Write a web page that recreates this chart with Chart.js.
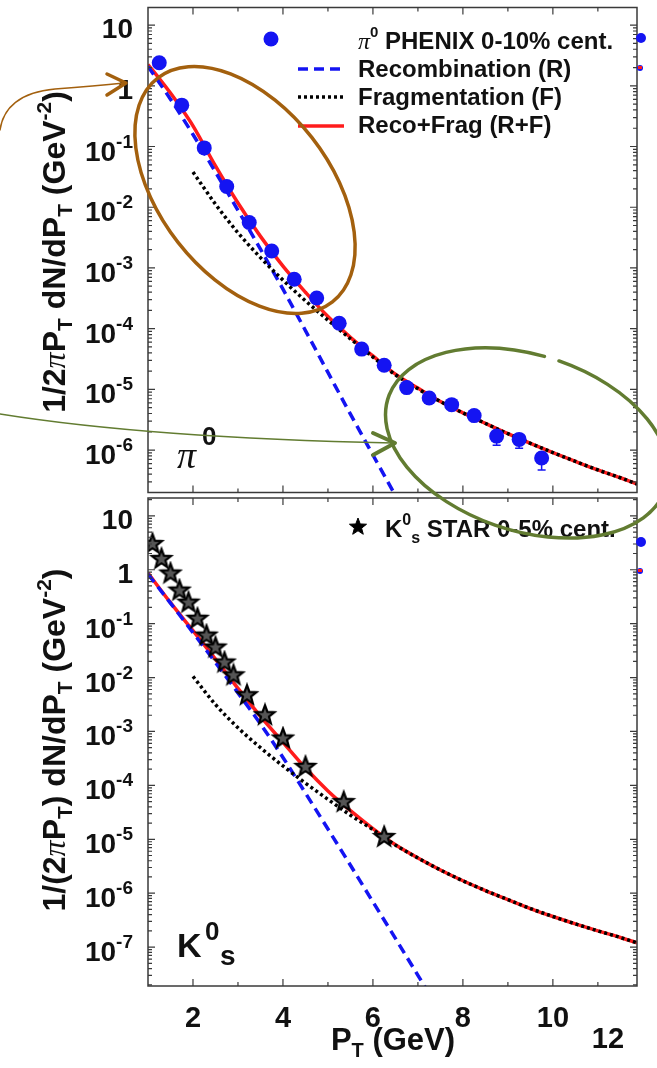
<!DOCTYPE html>
<html>
<head>
<meta charset="utf-8">
<script src="https://cdn.jsdelivr.net/npm/chart.js@4.4.1/dist/chart.umd.min.js"></script>
<style>
  body { margin: 0; background: #fff; }
  #wrap { position: relative; width: 657px; height: 1068px; overflow: hidden; }
  #topChart { position: absolute; left: 0; top: 0; }
  #botChart { position: absolute; left: 0; top: 487px; }
  #notes { position: absolute; left: 0; top: 0; pointer-events: none; }
</style>
</head>
<body>
<div id="wrap">
  <canvas id="topChart" width="657" height="500"></canvas>
  <canvas id="botChart" width="657" height="581"></canvas>
  <canvas id="notes" width="657" height="1068"></canvas>
</div>
<script>
// ---- pi0 panel (top) ----
var piX = [1.25, 1.75, 2.25, 2.75, 3.25, 3.75, 4.25, 4.75, 5.25, 5.75, 6.25, 6.75, 7.25, 7.75, 8.25, 8.75, 9.25, 9.75];
var piY = [2.4, 0.48, 0.095, 0.022, 5.6e-3, 1.9e-3, 6.5e-4, 3.2e-4, 1.23e-4, 4.6e-5, 2.5e-5, 1.07e-5, 7.2e-6, 5.6e-6, 3.7e-6, 1.7e-6, 1.5e-6, 7.4e-7];
var piYLow = [null, null, null, null, null, null, null, null, null, null, null, null, null, null, null, 1.2e-6, 1.07e-6, 4.7e-7];

var recoPiX = [1, 1.5, 2, 2.5, 3, 3.5, 4, 4.5, 5, 5.5, 6, 6.5, 7];
var recoPiY = [2.09, 0.603, 0.158, 0.038, 8.9e-3, 2.04e-3, 4.47e-4, 9.3e-5, 1.9e-5, 3.9e-6, 8.3e-7, 1.78e-7, 3.8e-8];

var fragPiX = [2, 2.5, 3, 3.5, 4, 4.5, 5, 5.5, 6, 6.5, 7, 7.5, 8, 8.5, 9, 9.5, 10, 10.5, 11, 11.5, 11.87];
var fragPiY = [0.038, 0.0112, 3.8e-3, 1.48e-3, 6.3e-4, 2.88e-4, 1.38e-4, 6.8e-5, 3.4e-5, 1.74e-5, 1.02e-5, 6.3e-6, 4.1e-6, 2.75e-6, 1.86e-6, 1.29e-6, 9.1e-7, 6.5e-7, 4.7e-7, 3.5e-7, 2.75e-7];

var sumPiX = [1, 1.25, 1.5, 1.75, 2, 2.5, 3, 3.5, 4, 4.5, 5, 5.5, 6, 6.5, 7, 7.5, 8, 8.5, 9, 9.5, 10, 10.5, 11, 11.5, 11.87];
var sumPiY = [2.24, 1.32, 0.76, 0.417, 0.219, 0.0479, 0.01175, 3.31e-3, 1.07e-3, 3.98e-4, 1.58e-4, 7.2e-5, 3.55e-5, 1.78e-5, 1.05e-5, 6.3e-6, 4.1e-6, 2.75e-6, 1.86e-6, 1.29e-6, 9.1e-7, 6.5e-7, 4.7e-7, 3.5e-7, 2.75e-7];

// ---- K0s panel (bottom) ----
var k0X = [1.1, 1.3, 1.5, 1.7, 1.9, 2.1, 2.3, 2.5, 2.7, 2.9, 3.2, 3.6, 4.0, 4.5, 5.35, 6.25];
var k0Y = [3.0, 1.58, 0.85, 0.41, 0.245, 0.123, 0.060, 0.036, 0.019, 0.011, 4.7e-3, 2.0e-3, 7.4e-4, 2.2e-4, 4.9e-5, 1.1e-5];

var recoKX = [1, 1.5, 2, 2.5, 3, 3.5, 4, 4.5, 5, 5.5, 6, 6.5, 7, 7.5];
var recoKY = [0.83, 0.24, 0.068, 0.019, 5.2e-3, 1.38e-3, 3.3e-4, 7.2e-5, 1.55e-5, 3.3e-6, 6.9e-7, 1.45e-7, 3.0e-8, 6.3e-9];

var fragKX = [2, 2.5, 3, 3.5, 4, 4.5, 5, 5.5, 6, 6.5, 7, 7.5, 8, 8.5, 9, 9.5, 10, 10.5, 11, 11.5, 11.87];
var fragKY = [0.0105, 3.16e-3, 1.17e-3, 5.0e-4, 2.29e-4, 1.1e-4, 5.5e-5, 2.8e-5, 1.51e-5, 7.8e-6, 4.5e-6, 2.7e-6, 1.7e-6, 1.12e-6, 7.6e-7, 5.2e-7, 3.7e-7, 2.7e-7, 2.0e-7, 1.51e-7, 1.2e-7];

var sumKX = [1, 1.5, 2, 2.5, 3, 3.5, 4, 4.5, 5, 5.5, 6, 6.5, 7, 7.5, 8, 8.5, 9, 9.5, 10, 10.5, 11, 11.5, 11.87];
var sumKY = [0.87, 0.245, 0.074, 0.0219, 6.3e-3, 1.9e-3, 6.3e-4, 2.1e-4, 7.9e-5, 3.4e-5, 1.58e-5, 7.9e-6, 4.5e-6, 2.7e-6, 1.7e-6, 1.12e-6, 7.6e-7, 5.2e-7, 3.7e-7, 2.7e-7, 2.0e-7, 1.51e-7, 1.2e-7];

// ---- axes ----
var xMin = 1, xMax = 11.87;
var xTicks = [2, 4, 6, 8, 10];
var xTickLabels = ['2', '4', '6', '8', '10'];
var topYMin = 2.0e-7, topYMax = 19.5;
var topYTicks = [10, 1, 1e-1, 1e-2, 1e-3, 1e-4, 1e-5, 1e-6];
var topYLabels = ['10', '1', '10^-1', '10^-2', '10^-3', '10^-4', '10^-5', '10^-6'];
var botYMin = 1.9e-8, botYMax = 21.4;
var botYTicks = [10, 1, 1e-1, 1e-2, 1e-3, 1e-4, 1e-5, 1e-6, 1e-7];
var botYLabels = ['10', '1', '10^-1', '10^-2', '10^-3', '10^-4', '10^-5', '10^-6', '10^-7'];

var SANS = '"Liberation Sans", Arial, Helvetica, sans-serif';
var SERIF = '"Liberation Serif", "DejaVu Serif", serif';
function bold(s) { return 'bold ' + s + 'px ' + SANS; }
function piFont(s) { return 'italic ' + s + 'px ' + SERIF; }

var BLUE = '#1414f2', RED = '#ff1c1c', INK = '#111';

function pts(xs, ys) {
  return xs.map(function (x, i) { return { x: x, y: ys[i] }; });
}

// text made of pieces (sub/superscripts)
function drawRich(ctx, parts, x, y, align) {
  var total = 0;
  parts.forEach(function (p) { ctx.font = p.f; p.w = ctx.measureText(p.t).width; total += p.w; });
  var cx = align == 'right' ? x - total : (align == 'center' ? x - total / 2 : x);
  ctx.textAlign = 'left';
  ctx.textBaseline = 'alphabetic';
  parts.forEach(function (p) {
    ctx.font = p.f;
    ctx.fillText(p.t, cx, y + (p.dy || 0));
    cx += p.w;
  });
}

function starImage(r, fill, lw) {
  var c = document.createElement('canvas');
  var s = Math.ceil(r * 2 + 6);
  c.width = s; c.height = s;
  var g = c.getContext('2d');
  g.beginPath();
  for (var i = 0; i < 10; i++) {
    var rr = i % 2 ? r * 0.42 : r;
    var a = -Math.PI / 2 + i * Math.PI / 5;
    g.lineTo(s / 2 + rr * Math.cos(a), s / 2 + rr * Math.sin(a));
  }
  g.closePath();
  g.fillStyle = fill;
  g.fill();
  g.lineJoin = 'miter';
  g.lineWidth = lw;
  g.strokeStyle = '#000';
  g.stroke();
  return c;
}

// frame, inward ticks, tick labels, axis title
function drawFrame(chart, yTicks, yLabels, title, titleY) {
  var ctx = chart.ctx, a = chart.chartArea;
  var xs = chart.scales.x, ys = chart.scales.y;
  ctx.save();
  ctx.strokeStyle = '#3a3a3a';
  ctx.lineWidth = 1.5;
  ctx.strokeRect(a.left, a.top, a.right - a.left, a.bottom - a.top);
  ctx.lineWidth = 1.2;
  ctx.beginPath();
  for (var v = 1; v <= 11; v++) {
    var px = xs.getPixelForValue(v);
    if (px <= a.left + 1 || px >= a.right - 1) continue;
    var len = v % 2 == 0 ? 7 : 4;
    ctx.moveTo(px, a.bottom); ctx.lineTo(px, a.bottom - len);
    ctx.moveTo(px, a.top); ctx.lineTo(px, a.top + len);
  }
  var lo = Math.floor(Math.log10(ys.min)), hi = Math.ceil(Math.log10(ys.max));
  for (var d = lo; d <= hi; d++) {
    for (var m = 1; m <= 9; m++) {
      var val = m * Math.pow(10, d);
      if (val < ys.min || val > ys.max) continue;
      var py = ys.getPixelForValue(val);
      var l2 = m == 1 ? 7 : 4;
      ctx.moveTo(a.left, py); ctx.lineTo(a.left + l2, py);
      ctx.moveTo(a.right, py); ctx.lineTo(a.right - l2, py);
    }
  }
  ctx.stroke();

  ctx.fillStyle = INK;
  yTicks.forEach(function (t, i) {
    var py = ys.getPixelForValue(t);
    var bits = yLabels[i].split('^');
    var parts = [{ t: bits[0], f: bold(28) }];
    if (bits[1]) parts.push({ t: bits[1], f: bold(19), dy: -13 });
    drawRich(ctx, parts, a.left - 15, py + (bits[1] ? 14 : 13), 'right');
  });

  ctx.translate(65, titleY);
  ctx.rotate(-Math.PI / 2);
  drawRich(ctx, title, 0, 0, 'center');
  ctx.restore();
}

var commonScales = function (yMin, yMax) {
  return {
    x: { type: 'linear', min: xMin, max: xMax, display: false },
    y: { type: 'logarithmic', min: yMin, max: yMax, display: false }
  };
};

var curve = function (data, color, dash, order) {
  return {
    data: data, borderColor: color, borderWidth: 3.5, borderDash: dash,
    pointRadius: 0, fill: false, cubicInterpolationMode: 'monotone', order: order
  };
};

// ---------- top chart ----------
var topTitle = [
  { t: '1/2', f: bold(32) }, { t: 'π', f: piFont(32) }, { t: 'P', f: bold(32) },
  { t: 'T', f: bold(21), dy: 7 }, { t: ' dN/dP', f: bold(32) }, { t: 'T', f: bold(21), dy: 7 },
  { t: ' (GeV', f: bold(32) }, { t: '-2', f: bold(21), dy: -14 }, { t: ')', f: bold(32) }
];

var topPlugin = {
  id: 'topDeco',
  beforeDatasetsDraw: function (chart) {
    var ctx = chart.ctx, xs = chart.scales.x, ys = chart.scales.y;
    ctx.save();
    ctx.strokeStyle = BLUE;
    ctx.lineWidth = 1.5;
    ctx.beginPath();
    piYLow.forEach(function (lo, i) {
      if (lo == null) return;
      var px = xs.getPixelForValue(piX[i]);
      var py = ys.getPixelForValue(piY[i]);
      var pl = ys.getPixelForValue(lo);
      ctx.moveTo(px, py); ctx.lineTo(px, pl);
      ctx.moveTo(px - 4, pl); ctx.lineTo(px + 4, pl);
    });
    ctx.stroke();
    ctx.restore();
  },
  afterDraw: function (chart) {
    drawFrame(chart, topYTicks, topYLabels, topTitle, 252);
    var ctx = chart.ctx;
    ctx.save();
    // legend
    ctx.fillStyle = BLUE;
    ctx.beginPath(); ctx.arc(271, 39, 7.5, 0, Math.PI * 2); ctx.fill();
    ctx.lineWidth = 3.5;
    ctx.strokeStyle = BLUE; ctx.setLineDash([10, 6]);
    ctx.beginPath(); ctx.moveTo(298, 69); ctx.lineTo(344, 69); ctx.stroke();
    ctx.strokeStyle = '#000'; ctx.setLineDash([3, 3]);
    ctx.beginPath(); ctx.moveTo(298, 97); ctx.lineTo(344, 97); ctx.stroke();
    ctx.strokeStyle = RED; ctx.setLineDash([]);
    ctx.beginPath(); ctx.moveTo(298, 126); ctx.lineTo(344, 126); ctx.stroke();
    ctx.fillStyle = INK;
    drawRich(ctx, [{ t: 'π', f: piFont(24) }, { t: '0', f: bold(15), dy: -12 }, { t: ' PHENIX 0-10% cent.', f: bold(24) }], 358, 49, 'left');
    drawRich(ctx, [{ t: 'Recombination (R)', f: bold(24) }], 358, 77, 'left');
    drawRich(ctx, [{ t: 'Fragmentation (F)', f: bold(24) }], 358, 105, 'left');
    drawRich(ctx, [{ t: 'Reco+Frag (R+F)', f: bold(24) }], 358, 133, 'left');
    // panel label
    drawRich(ctx, [{ t: 'π', f: piFont(38) }], 177, 468, 'left');
    drawRich(ctx, [{ t: '0', f: bold(26) }], 202, 445, 'left');
    ctx.restore();
  }
};

var topChart = new Chart(document.getElementById('topChart'), {
  type: 'line',
  data: {
    datasets: [
      { label: 'π0 PHENIX 0-10% cent.', data: pts(piX, piY), showLine: false, pointRadius: 7.5,
        pointBackgroundColor: BLUE, pointBorderWidth: 0, order: 0 },
      Object.assign({ label: 'Fragmentation (F)' }, curve(pts(fragPiX, fragPiY), '#000', [3, 3], 1)),
      Object.assign({ label: 'Recombination (R)' }, curve(pts(recoPiX, recoPiY), BLUE, [10, 6], 2)),
      Object.assign({ label: 'Reco+Frag (R+F)' }, curve(pts(sumPiX, sumPiY), RED, [], 3))
    ]
  },
  options: {
    responsive: false, animation: false, events: [],
    layout: { padding: { left: 148, right: 20, top: 7, bottom: 3 } },
    scales: commonScales(topYMin, topYMax),
    plugins: { legend: { display: false }, tooltip: { enabled: false } }
  },
  plugins: [topPlugin]
});

// ---------- bottom chart ----------
var botTitle = [
  { t: '1/(2', f: bold(32) }, { t: 'π', f: piFont(32) }, { t: 'P', f: bold(32) },
  { t: 'T', f: bold(21), dy: 7 }, { t: ') dN/dP', f: bold(32) }, { t: 'T', f: bold(21), dy: 7 },
  { t: ' (GeV', f: bold(32) }, { t: '-2', f: bold(21), dy: -14 }, { t: ')', f: bold(32) }
];

var botPlugin = {
  id: 'botDeco',
  afterDraw: function (chart) {
    drawFrame(chart, botYTicks, botYLabels, botTitle, 253);
    var ctx = chart.ctx, xs = chart.scales.x;
    ctx.save();
    ctx.fillStyle = INK;
    xTicks.forEach(function (t, i) {
      drawRich(ctx, [{ t: xTickLabels[i], f: bold(29) }], xs.getPixelForValue(t), 540, 'center');
    });
    drawRich(ctx, [{ t: '12', f: bold(29) }], 608, 561, 'center');
    drawRich(ctx, [{ t: 'P', f: bold(31) }, { t: 'T', f: bold(20), dy: 7 }, { t: ' (GeV)', f: bold(31) }], 393, 563, 'center');
    // legend
    ctx.drawImage(legendStar, 358 - legendStar.width / 2, 40 - legendStar.height / 2);
    drawRich(ctx, [{ t: 'K', f: bold(24) }, { t: '0', f: bold(16), dy: -12 }, { t: 's', f: bold(16), dy: 6 },
      { t: ' STAR 0-5% cent.', f: bold(24) }], 385, 50, 'left');
    // panel label
    drawRich(ctx, [{ t: 'K', f: bold(34) }], 177, 470, 'left');
    drawRich(ctx, [{ t: '0', f: bold(26) }], 205, 453, 'left');
    drawRich(ctx, [{ t: 's', f: bold(28) }], 220, 478, 'left');
    ctx.restore();
  }
};

var dataStar = starImage(10, '#555', 2.2);
var legendStar = starImage(9, '#000', 1);

var botChart = new Chart(document.getElementById('botChart'), {
  type: 'line',
  data: {
    datasets: [
      { label: 'K0s STAR 0-5% cent.', data: pts(k0X, k0Y), showLine: false, pointRadius: 10,
        pointStyle: dataStar, order: 0 },
      Object.assign({ label: 'Fragmentation (F)' }, curve(pts(fragKX, fragKY), '#000', [3, 3], 1)),
      Object.assign({ label: 'Recombination (R)' }, curve(pts(recoKX, recoKY), BLUE, [10, 6], 2)),
      Object.assign({ label: 'Reco+Frag (R+F)' }, curve(pts(sumKX, sumKY), RED, [], 3))
    ]
  },
  options: {
    responsive: false, animation: false, events: [],
    layout: { padding: { left: 148, right: 20, top: 10, bottom: 82 } },
    scales: commonScales(botYMin, botYMax),
    plugins: { legend: { display: false }, tooltip: { enabled: false } }
  },
  plugins: [botPlugin]
});

// ---------- hand-drawn marks on top of the figure ----------
(function () {
  var ctx = document.getElementById('notes').getContext('2d');
  ctx.lineCap = 'round';
  ctx.lineJoin = 'round';
  // clipped legend markers peeking in at the right edge
  ctx.fillStyle = BLUE;
  [[641, 38, 5], [640, 68, 3], [641, 542, 5], [640, 571, 3]].forEach(function (c) {
    ctx.beginPath(); ctx.arc(c[0], c[1], c[2], 0, Math.PI * 2); ctx.fill();
  });
  ctx.fillStyle = RED;
  ctx.fillRect(638, 66, 4, 3);
  ctx.fillRect(638, 569, 4, 3);
  // brown ellipse + arrow
  ctx.strokeStyle = '#a3600e';
  ctx.lineWidth = 3.5;
  ctx.beginPath(); ctx.ellipse(245, 190, 142, 85, 52 * Math.PI / 180, 0, Math.PI * 2); ctx.stroke();
  ctx.lineWidth = 1.5;
  ctx.beginPath(); ctx.moveTo(0, 130); ctx.bezierCurveTo(3, 108, 20, 92, 55, 89); ctx.quadraticCurveTo(95, 86, 124, 83); ctx.stroke();
  ctx.lineWidth = 3.5;
  ctx.beginPath(); ctx.moveTo(107, 74); ctx.lineTo(126, 83); ctx.lineTo(107, 95); ctx.stroke();
  // green ellipse + arrow
  ctx.strokeStyle = '#627c31';
  ctx.lineWidth = 3.5;
  ctx.beginPath(); ctx.ellipse(527, 443, 146, 88, 18 * Math.PI / 180, -88 * Math.PI / 180, 266 * Math.PI / 180); ctx.stroke();
  ctx.lineWidth = 1.5;
  ctx.beginPath(); ctx.moveTo(0, 414); ctx.quadraticCurveTo(150, 438, 393, 443); ctx.stroke();
  ctx.lineWidth = 4;
  ctx.beginPath(); ctx.moveTo(373, 433); ctx.lineTo(395, 443); ctx.lineTo(373, 455); ctx.stroke();
})();
</script>
</body>
</html>
